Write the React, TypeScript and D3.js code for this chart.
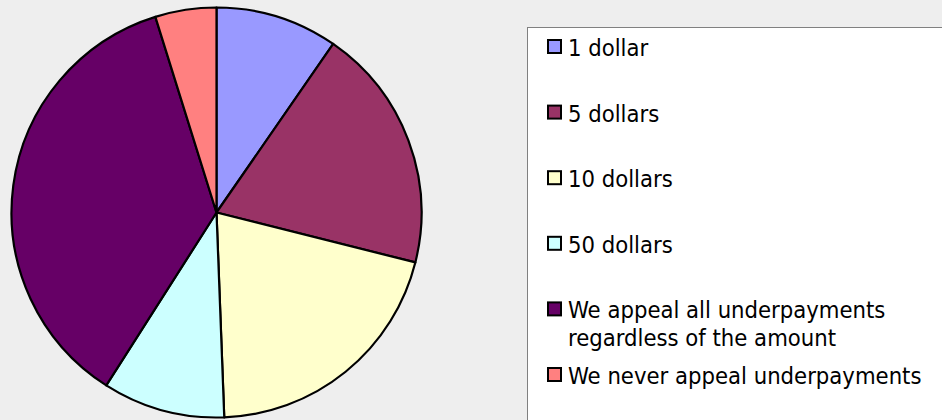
import React, { useEffect, useRef } from "react";
import * as d3 from "d3";

// survey answers: smallest underpayment that gets appealed
const categories = [
  "1 dollar",
  "5 dollars",
  "10 dollars",
  "50 dollars",
  "We appeal all underpayments regardless of the amount",
  "We never appeal underpayments",
];
const counts = [8, 16, 17, 8, 30, 4];
const colors = ["#9999FF", "#993366", "#FFFFCC", "#CCFFFF", "#660066", "#FF8080"];
// legend text split into lines like the original
const legendLines = [
  ["1 dollar"],
  ["5 dollars"],
  ["10 dollars"],
  ["50 dollars"],
  ["We appeal all underpayments", "regardless of the amount"],
  ["We never appeal underpayments"],
];

const W = 942;
const H = 420;

export default function App() {
  const ref = useRef<SVGSVGElement | null>(null);

  useEffect(() => {
    document.body.style.margin = "0";
    const svg = d3.select(ref.current);
    svg.selectAll("*").remove();

    svg.append("rect").attr("width", W).attr("height", H).attr("fill", "#eeeeee");

    const data = categories.map((c, i) => ({ name: c, value: counts[i], color: colors[i] }));

    const pie = d3.pie<any>().sort(null).value(d => d.value);
    const arc = d3.arc<any>().innerRadius(0).outerRadius(205);

    const g = svg.append("g").attr("transform", "translate(216.5,212.5)");
    g.selectAll("path")
      .data(pie(data))
      .enter()
      .append("path")
      .attr("d", arc)
      .attr("fill", d => d.data.color)
      .attr("stroke", "#000")
      .attr("stroke-width", 2.2)
      .attr("stroke-linejoin", "round");

    // legend box runs off the right and bottom edges
    svg.append("rect")
      .attr("x", 527.5)
      .attr("y", 27.5)
      .attr("width", 500)
      .attr("height", 500)
      .attr("fill", "#fff")
      .attr("stroke", "#808080")
      .attr("stroke-width", 1);

    const yScale = d3.scaleLinear().domain([0, categories.length - 1]).range([56, 384]);
    const lineH = 28;

    const items = svg.selectAll(".leg")
      .data(data)
      .enter()
      .append("g")
      .attr("class", "leg")
      .attr("transform", (d, i) => `translate(0,${yScale(i)})`);

    items.append("rect")
      .attr("x", 548)
      .attr("y", -16)
      .attr("width", 13)
      .attr("height", 13)
      .attr("fill", d => d.color)
      .attr("stroke", "#000")
      .attr("stroke-width", 2);

    items.append("text")
      .attr("x", 568)
      .attr("font-family", "'DejaVu Sans Condensed', 'DejaVu Sans', sans-serif")
      .attr("font-size", 23.6)
      .attr("fill", "#000")
      .each(function (d, i) {
        const t = d3.select(this);
        legendLines[i].forEach((line, j) => {
          t.append("tspan").attr("x", 568).attr("dy", j === 0 ? 0 : lineH).text(line);
        });
      });
  }, []);

  return <svg ref={ref} width={W} height={H} style={{ display: "block" }} />;
}
